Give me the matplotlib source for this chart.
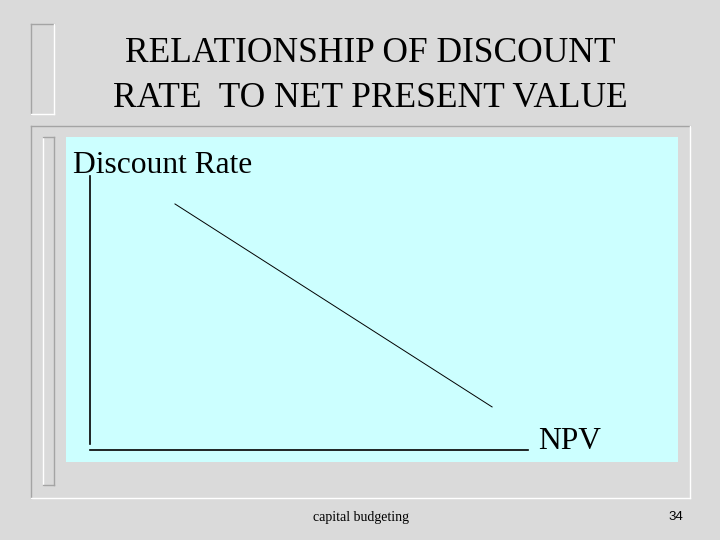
import numpy as np
import matplotlib.pyplot as plt
from matplotlib.patches import Rectangle

plt.rcParams['font.family'] = 'Liberation Serif'

# Data - NPV profile (discount rate falls as NPV rises)
npv = [1.94, 9.18]
discount_rate = [8.97, 1.57]

title_lines = ["RELATIONSHIP OF DISCOUNT", "RATE  TO NET PRESENT VALUE"]
y_label = "Discount Rate"
x_label = "NPV"
footer_text = "capital budgeting"
slide_number = "34"

W, H = 720, 540
MARBLE = '#dadada'
PANEL = '#ccffff'
EDGE_DARK = '#a4a4a4'
EDGE_LIGHT = '#ffffff'

fig = plt.figure(figsize=(7.2, 5.4), dpi=100)
fig.patch.set_facecolor(MARBLE)

# Background axes in pixel coords for the slide decorations
bg = fig.add_axes([0, 0, 1, 1])
bg.set_xlim(0, W)
bg.set_ylim(H, 0)
bg.axis('off')


def bevel(ax, x0, y0, x1, y1, left, top, right, bottom):
    ax.plot([x0, x0], [y0, y1], color=left, lw=1.0)
    ax.plot([x0, x1], [y0, y0], color=top, lw=1.0)
    ax.plot([x1, x1], [y0, y1], color=right, lw=1.0)
    ax.plot([x0, x1], [y1, y1], color=bottom, lw=1.0)


# frames around title and body
bevel(bg, 30.7, 24.3, 54.3, 114.3, EDGE_DARK, EDGE_DARK, EDGE_LIGHT, EDGE_LIGHT)
bevel(bg, 30.7, 125.7, 690, 498, EDGE_DARK, EDGE_DARK, EDGE_LIGHT, EDGE_LIGHT)
bevel(bg, 42.7, 136.7, 54.3, 485, EDGE_LIGHT, EDGE_DARK, EDGE_DARK, EDGE_DARK)

# light cyan panel
bg.add_patch(Rectangle((66, 137), 612, 325, facecolor=PANEL, edgecolor='none'))

# Title
for line, base in zip(title_lines, [61.7, 106.7]):
    bg.text(370, base, line, fontsize=25.5, ha='center', va='baseline', color='black')

# Footer
bg.text(312.7, 520.7, footer_text, fontsize=10, ha='left', va='baseline')
bg.text(683, 520.5, slide_number, fontsize=9.5, ha='right', va='baseline',
        family='Liberation Sans')

# Chart axes: spines act as the drawn axis lines
ax_l, ax_r, ax_t, ax_b = 90, 528, 175.7, 450
ax = fig.add_axes([ax_l / W, (H - ax_b) / H, (ax_r - ax_l) / W, (ax_b - ax_t) / H])
ax.set_facecolor('none')
ax.set_xlim(0, 10)
ax.set_ylim(0, 10)
ax.set_xticks([])
ax.set_yticks([])
for side in ['top', 'right']:
    ax.spines[side].set_visible(False)
ax.spines['left'].set_linewidth(1.2)
ax.spines['bottom'].set_linewidth(1.2)
ax.spines['left'].set_bounds(0.22, 10)

ax.plot(npv, discount_rate, color='black', lw=0.7)

# Axis labels placed like the slide text boxes
bg.text(73, 172.7, y_label, fontsize=22.7, ha='left', va='baseline')
bg.text(538, 449, x_label, fontsize=22.7, ha='left', va='baseline')

plt.savefig('out.png', dpi=100, facecolor=fig.get_facecolor())
plt.close()
